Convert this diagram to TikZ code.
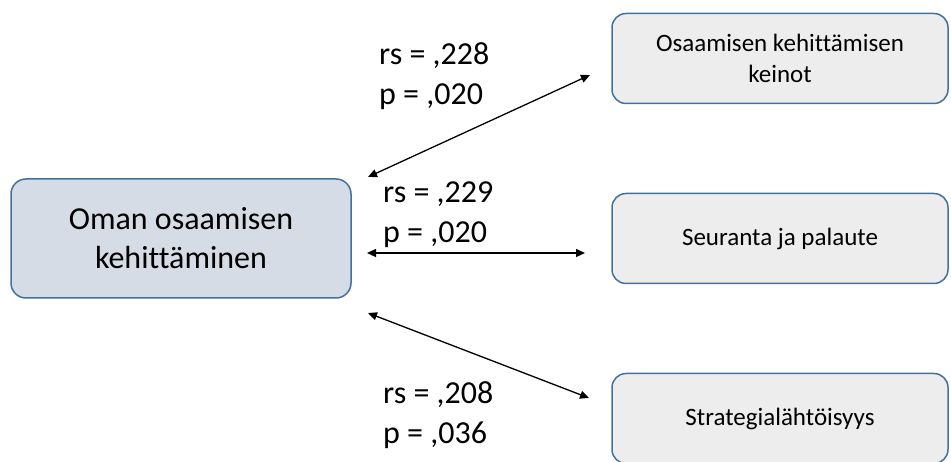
\documentclass[tikz,border=0pt]{standalone}
\usepackage{fontspec}
\setmainfont{Carlito}[Ligatures=NoCommon]
\usepackage{xcolor}
\usetikzlibrary{
    arrows.meta,
    positioning
}

\definecolor{boxline}{HTML}{41719C}
\definecolor{mainfill}{HTML}{D6DCE5}
\definecolor{subfill}{HTML}{EDEDED}

\begin{document}
\begin{tikzpicture}[
    x=1pt, y=1pt,
    node distance=90pt,
    mainbox/.style={
        rectangle,
        rounded corners=15pt,
        draw=boxline,
        fill=mainfill,
        line width=1.5pt,
        outer sep=0pt,
        align=center,
        minimum height=119pt,
        minimum width=340pt,
        font=\fontsize{32}{39}\selectfont
    },
    subbox/.style={
        rectangle,
        rounded corners=14pt,
        draw=boxline,
        fill=subfill,
        line width=1.5pt,
        outer sep=0pt,
        align=center,
        minimum height=90pt,
        minimum width=336pt,
        font=\fontsize{25}{30.5}\selectfont
    },
    stat/.style={
        align=left,
        inner sep=0pt,
        font=\fontsize{32}{40}\selectfont
    },
    arrow/.style={{Triangle[length=9pt,width=8pt]}-{Triangle[length=9pt,width=8pt]}, line width=1.3pt, black}
]

\clip (0,0) rectangle (951,-462);

% ===== Boxes =====
\node[mainbox] (oman) at (181,-238.5) {Oman osaamisen\\kehittäminen};
\node[subbox, right=261pt of oman] (seuranta) {Seuranta ja palaute};
\node[subbox, above=of seuranta] (keinot) {Osaamisen kehittämisen\\keinot};
\node[subbox, below=of seuranta] (strategia) {Strategialähtöisyys};

% ===== Arrow ends =====
\coordinate (o1) at ([shift={(17,2)}]oman.north east);
\coordinate (o2) at ([shift={(16,-14.5)}]oman.east);
\coordinate (o3) at ([shift={(17,-15)}]oman.south east);
\coordinate (k1) at ([shift={(-22,28.5)}]keinot.south west);
\coordinate (s2) at ([shift={(-27,-14.5)}]seuranta.west);
\coordinate (t3) at ([shift={(-23,20.5)}]strategia.west);

\draw[arrow] (o1) -- (k1);
\draw[arrow] (o2) -- (s2);
\draw[arrow] (o3) -- (t3);

% Correlations (base = last line)
\node[stat, anchor=base west] (r1) at (379,-105) {rs = ,228\\p = ,020};
\node[stat, anchor=base west] (r2) at (383,-243) {rs = ,229\\p = ,020};
\node[stat, anchor=base west] (r3) at (383,-443) {rs = ,208\\p = ,036};

\end{tikzpicture}
\end{document}
